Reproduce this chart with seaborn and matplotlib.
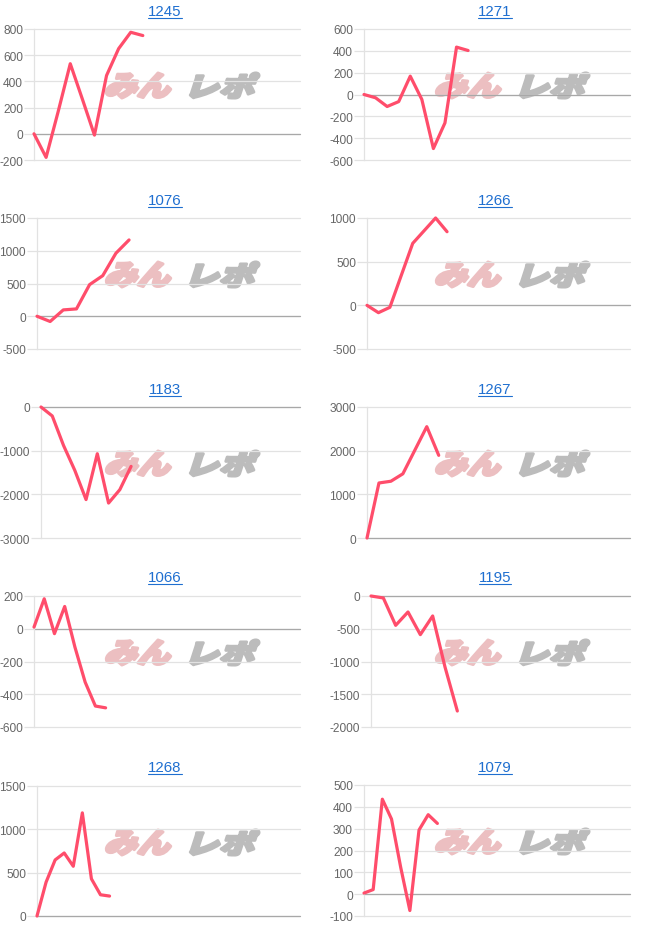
import numpy as np
import pandas as pd
import matplotlib
matplotlib.use("Agg")
import matplotlib.pyplot as plt
import seaborn as sns
from matplotlib.textpath import TextPath
from matplotlib.patches import PathPatch
from matplotlib.font_manager import FontProperties
from matplotlib.transforms import Affine2D
from matplotlib.lines import Line2D

# ---------------- data ----------------
titles = ["1245", "1271", "1076", "1266", "1183", "1267", "1066", "1195", "1268", "1079"]

v1245 = [0, -180, 170, 535, 265, -10, 445, 650, 775, 750]
v1271 = [0, -30, -110, -65, 168, -45, -495, -260, 434, 403]
v1076 = [0, -80, 97, 112, 483, 620, 962, 1165]
v1266 = [0, -84, -23, 344, 710, 855, 1000, 843]
v1183 = [0, -205, -880, -1450, -2120, -1070, -2200, -1893, -1360]
v1267 = [0, 1260, 1300, 1470, 2010, 2550, 1893]
v1066 = [10, 183, -30, 136, -112, -326, -472, -483]
v1195 = [0, -30, -448, -244, -590, -305, -1084, -1756]
v1268 = [0, 390, 647, 727, 574, 1190, 429, 245, 230]
v1079 = [5, 21, 435, 344, 123, -75, 294, 364, 324]

series = [v1245, v1271, v1076, v1266, v1183, v1267, v1066, v1195, v1268, v1079]

y_ticks = [
    [-200, 0, 200, 400, 600, 800],
    [-600, -400, -200, 0, 200, 400, 600],
    [-500, 0, 500, 1000, 1500],
    [-500, 0, 500, 1000],
    [-3000, -2000, -1000, 0],
    [0, 1000, 2000, 3000],
    [-600, -400, -200, 0, 200],
    [-2000, -1500, -1000, -500, 0],
    [0, 500, 1000, 1500],
    [-100, 0, 100, 200, 300, 400, 500],
]
x_extent = [22, 23, 20, 23, 23, 22, 26, 21, 29, 29]

# ---------------- layout (pixels) ----------------
W, H = 660, 945
rects = [
    (34, 30, 161), (364, 30, 161),
    (37, 219, 350), (367, 219, 350),
    (41, 408, 539), (367, 408, 539),
    (34, 597, 728), (371, 597, 728),
    (37, 787, 917), (364, 786, 917),
]
right_edge = [300, 630]
title_y = [12, 201, 390, 578, 768]

sns.set_theme(style="white")
plt.rcParams["font.family"] = ["Liberation Sans", "DejaVu Sans"]
plt.rcParams["axes.unicode_minus"] = False

fig = plt.figure(figsize=(W / 100, H / 100), dpi=100)
fig.patch.set_facecolor("white")

LINE = "#ff4d6b"
GRID = "#e2e2e2"
ZERO = "#a8a8a8"

fp_cjk = FontProperties(family="Noto Sans CJK JP", weight="heavy")


def logo_part(text, x0, x1, ytop, ybot, color, skew=18):
    tp = TextPath((0, 0), text, size=100, prop=fp_cjk)
    v = tp.vertices
    xmin, ymin = v.min(axis=0)
    xmax, ymax = v.max(axis=0)
    th = ybot - ytop
    shift = np.tan(np.radians(skew)) * th
    sx = (x1 - x0 - shift) / (xmax - xmin)
    sy = th / (ymax - ymin)
    tr = (Affine2D().translate(-xmin, -ymin).scale(sx, sy)
          .skew_deg(skew, 0).translate(x0, H - ybot))
    patch = PathPatch(tp, facecolor=color, edgecolor=color, linewidth=2.2,
                      joinstyle="round", transform=tr, zorder=1)
    fig.add_artist(patch)


title_texts = []
for i, vals in enumerate(series):
    col = i % 2
    row = i // 2
    l, t, b = rects[i]
    r = right_edge[col]
    ax = fig.add_axes([l / W, (H - b) / H, (r - l) / W, (b - t) / H])
    ax.set_facecolor("none")
    ax.set_zorder(2)
    df = pd.DataFrame({"x": np.arange(len(vals)), "y": vals})
    sns.lineplot(data=df, x="x", y="y", ax=ax, color=LINE, linewidth=2.3,
                 zorder=5, clip_on=False)
    ticks = y_ticks[i]
    ax.set_ylim(ticks[0], ticks[-1])
    ax.set_yticks(ticks)
    ax.set_yticklabels([str(v) for v in ticks])
    ax.set_xlim(0, x_extent[i])
    ax.set_xticks([])
    ax.set_xlabel("")
    ax.set_ylabel("")
    ax.grid(axis="y", color=GRID, linewidth=0.9, zorder=0)
    for gl in ax.get_ygridlines():
        gl.set_clip_on(False)
    ax.axhline(0, color=ZERO, linewidth=0.9, zorder=1, clip_on=False)
    for s in ["top", "right", "bottom"]:
        ax.spines[s].set_visible(False)
    ax.spines["left"].set_color(GRID)
    ax.spines["left"].set_linewidth(0.9)
    ax.tick_params(axis="y", length=7, width=0.9, color=GRID, pad=1,
                   labelsize=8.6, labelcolor="#666666", left=True)
    for tk, v in zip(ax.yaxis.get_major_ticks(), ticks):
        if v == 0:
            tk.tick1line.set_color(ZERO)
    # watermark
    base_x = col * 330
    logo_part("みん", base_x + 103, base_x + 176, t + 44, t + 69, "#ecbfc1")
    logo_part("レポ", base_x + 183, base_x + 260, t + 44, t + 69, "#bcbcbc")
    # title
    cx = base_x + 165
    tt = fig.text(cx / W, 1 - title_y[row] / H, titles[i], ha="center", va="center",
                  fontsize=10.8, color="#1f6fd0")
    title_texts.append(tt)

fig.canvas.draw()
renderer = fig.canvas.get_renderer()
for tt in title_texts:
    bb = tt.get_window_extent(renderer)
    yl = bb.y0 + 0.5
    fig.add_artist(Line2D([bb.x0 / W, bb.x1 / W], [yl / H, yl / H],
                          color="#1f6fd0", linewidth=0.8))

fig.savefig("out.png", dpi=100, facecolor="white")
